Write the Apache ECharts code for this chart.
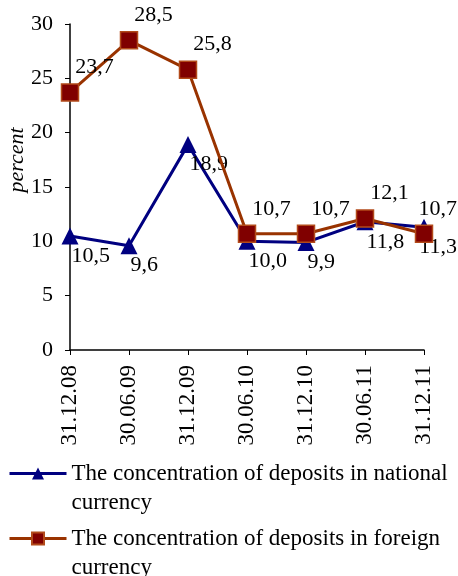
<!DOCTYPE html>
<html>
<head>
<meta charset="utf-8">
<script src="https://cdn.jsdelivr.net/npm/echarts@6/dist/echarts.min.js"></script>
<style>
  html, body { margin: 0; padding: 0; background: #fff; }
  #chart { width: 458px; height: 576px; }
</style>
</head>
<body>
<div id="chart"></div>
<script>
var dates = ['31.12.08', '30.06.09', '31.12.09', '30.06.10', '31.12.10', '30.06.11', '31.12.11']
var nationalVals = [10.5, 9.6, 18.9, 10.0, 9.9, 11.8, 11.3]
var foreignVals = [23.7, 28.5, 25.8, 10.7, 10.7, 12.1, 10.7]
var nationalName = 'The concentration of deposits in national currency'
var foreignName = 'The concentration of deposits in foreign currency'
// leading empty line keeps the icon level with the first text line
var nationalLegend = '\nThe concentration of deposits in national\ncurrency'
var foreignLegend = '\nThe concentration of deposits in foreign\ncurrency'

var font = 'Liberation Serif, Times New Roman, serif'
var fmt = function (p) { return p.value.toFixed(1).replace('.', ',') }

function legendBox (name, text, top) {
  return {
    orient: 'vertical',
    left: 8,
    top: top,
    padding: 0,
    itemWidth: 57,
    itemHeight: 15,
    lineStyle: { width: 3 },
    textStyle: { fontFamily: font, fontSize: 23, color: '#000', lineHeight: 29 },
    formatter: function () { return text },
    data: [name]
  }
}

// shift labels and keep the last ones inside the canvas
function shiftLabel (dx, dy) {
  return function (p) {
    var r = p.labelRect
    var d = dx
    if (r.x + d + r.width > 457) d = 457 - r.width - r.x
    return { dx: d, dy: dy }
  }
}

var chart = echarts.init(document.getElementById('chart'))
chart.setOption({
  animation: false,
  textStyle: { fontFamily: font },
  grid: { left: 70, right: 34, top: 24, bottom: 226 },
  legend: [
    legendBox(nationalName, nationalLegend, 430),
    legendBox(foreignName, foreignLegend, 495)
  ],
  graphic: [{
    type: 'text',
    x: 17,
    y: 160,
    rotation: Math.PI / 2,
    style: {
      text: 'percent',
      font: 'italic 22px ' + font,
      fill: '#000',
      align: 'center',
      verticalAlign: 'middle'
    }
  }],
  xAxis: {
    type: 'category',
    boundaryGap: false,
    data: dates,
    axisLine: { lineStyle: { color: '#000', width: 1.5 } },
    axisTick: { alignWithLabel: true, length: 5, lineStyle: { color: '#000' } },
    axisLabel: { rotate: 90, fontSize: 23, color: '#000', fontFamily: font, margin: 15 }
  },
  yAxis: {
    type: 'value',
    min: 0,
    max: 30,
    interval: 5,
    splitLine: { show: false },
    axisLine: { show: true, lineStyle: { color: '#000', width: 1.5 } },
    axisTick: { show: true, length: 5, lineStyle: { color: '#000' } },
    axisLabel: { fontSize: 22, color: '#000', fontFamily: font, margin: 17 }
  },
  series: [
    {
      name: nationalName,
      type: 'line',
      data: nationalVals,
      symbol: 'triangle',
      symbolSize: 17,
      lineStyle: { color: '#000080', width: 3 },
      itemStyle: { color: '#000080' },
      label: {
        show: true,
        position: 'right',
        distance: 0,
        formatter: fmt,
        fontSize: 22,
        color: '#000',
        fontFamily: font
      },
      labelLayout: shiftLabel(-7, 20),
      z: 2
    },
    {
      name: foreignName,
      type: 'line',
      data: foreignVals,
      symbol: 'rect',
      symbolSize: 17,
      lineStyle: { color: '#993300', width: 3 },
      itemStyle: { color: '#800000', borderColor: '#b24a1a', borderWidth: 1.5 },
      label: {
        show: true,
        position: 'right',
        distance: 0,
        formatter: fmt,
        fontSize: 22,
        color: '#000',
        fontFamily: font
      },
      labelLayout: shiftLabel(-4, -25),
      z: 3
    }
  ]
})
</script>
</body>
</html>
